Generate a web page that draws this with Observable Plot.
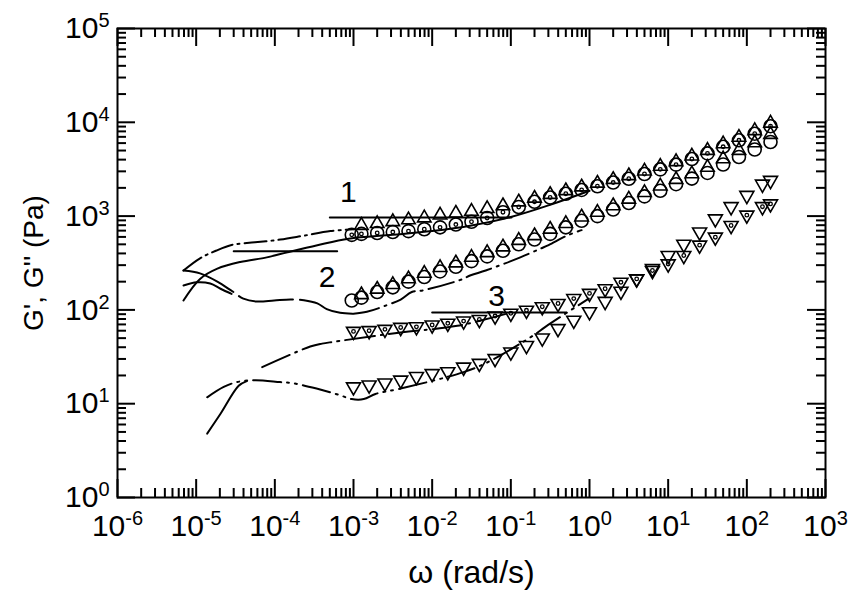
<!DOCTYPE html>
<html><head><meta charset="utf-8">
<script src="https://cdn.jsdelivr.net/npm/d3@7"></script>
<script src="https://cdn.jsdelivr.net/npm/@observablehq/plot@0.6"></script>
<style>
body{margin:0;background:#fff;}
svg{font-family:"Liberation Sans",Arial,sans-serif;}
</style></head><body><div id="chart"></div>
<script>
// ---- frequencies (rad/s) ----
const wOdd = [0.00126,0.002,0.00316,0.005,0.00794,0.0126,0.02,0.0316,0.05,0.0794,0.126,0.2,0.316,0.5,0.794,1.26,2,3.16,5,7.94,12.6,20,31.6,50,79.4,126,200];
const wCirc = [0.00095,0.00126,0.002,0.00316,0.005,0.00794,0.0126,0.02,0.0316,0.05,0.0794,0.126,0.2,0.316,0.5,0.794,1.26,2,3.16,5,7.94,12.6,20,31.6,50,79.4,126,200];
const wEven = [0.001,0.00158,0.00251,0.00398,0.00631,0.01,0.0158,0.0251,0.0398,0.0631,0.1,0.158,0.251,0.398,0.631,1,1.58,2.51,3.98,6.31,10,15.8,25.1,39.8,63.1,100,158,200];
// ---- moduli (Pa) ----
const gTopTri = [794,832,871,912,955,1023,1072,1122,1202,1288,1413,1549,1698,1862,2042,2239,2455,2692,3020,3388,3802,4365,5012,5888,6918,8128,9772];
const gTopCirc = [631,646,661,676,692,724,759,813,871,955,1100,1250,1420,1580,1730,1900,2080,2280,2500,2810,3150,3540,4060,4660,5480,6430,7560,9090];
const gMidCirc = [126,135,155,174,200,224,257,288,331,372,427,501,562,646,759,891,1000,1175,1380,1622,1862,2188,2512,2884,3548,4266,5129,6166];
const gMidTri = [145,166,186,214,245,282,316,363,407,468,550,617,724,832,977,1096,1288,1514,1778,2089,2455,2818,3311,4074,5012,6026,7413];
const gDownUpper = [59,60,62,65,66,69,72,76,79,86,92,99,108,117,132,150,168,197,214,263,309,380,490,596,794,1023,1259,1349];
const gDownLower = [15.1,15.8,16.6,17.8,19.5,20.9,21.9,24.5,26.9,30.2,35.5,41.7,50.1,63.1,77.6,95.5,123,158,214,275,380,501,676,933,1259,1660,2188,2399];
// ---- low-frequency curves ----
const lineA_w = [6.9e-6,1.12e-5,1.78e-5,2.75e-5,5.6e-5,1.17e-4,2.3e-4,5.1e-4,1e-3];
const lineA_g = [263,355,427,490,525,562,617,692,724];
const lineB_w = [6.9e-6,1.12e-5,1.86e-5,3.63e-5,7.9e-5,1.45e-4,3.47e-4,8.7e-4,3.16e-3,0.01,0.0316,0.1,0.316,1.0];
const lineB_g = [126,214,275,324,363,412,490,575,631,692,794,977,1318,1862];
const lineC_w = [6.9e-6,1.12e-5,1.86e-5,2.88e-5,3.98e-5,5.9e-5,9.8e-5,1.58e-4,2.34e-4,3.47e-4,4.57e-4,6.76e-4,1e-3,1.48e-3,2.63e-3,3.98e-3,5.5e-3,7.76e-3,0.0229,0.0309,0.0479,0.132,0.234,0.302,0.513,0.794];
const lineC_g = [263,245,200,158,132,123,126,129,127,117.5,102,93,91,95.5,112,129,155,162,209,234,263,363,447,490,617,708];
const lineD_w = [6.9e-6,1.02e-5,1.51e-5,2.04e-5,2.82e-5];
const lineD_g = [182,197,191,168,148];
const lineE_w = [1.38e-5,2.24e-5,3.31e-5,5.6e-5,1.17e-4,1.66e-4,3.39e-4,6.76e-4,9.5e-4,1.35e-3,1.9e-3,3.98e-3,0.0251,0.05,0.195,0.275,0.977];
const lineE_g = [11.7,15.1,17,17.8,17,16.6,14.5,12.3,11.2,11.2,12.7,14.5,21.7,27.5,53.7,66,132];
const lineF_w = [1.38e-5,2.04e-5,3.47e-5,4.4e-5];
const lineF_g = [4.8,7.8,15.5,17.4];
const lineG_w = [6.9e-5,2.82e-4,3.98e-4,5.6e-4,3.98e-3,0.0209,0.089];
const lineG_g = [24.5,40.7,43.7,45.7,57.5,67.6,91.2];
// ---- horizontal reference lines and labels ----
const ref1_w = [5.0e-4,0.102], ref1_g = [965,965];
const ref2_w = [3.0e-5,6.2e-4], ref2_g = [422,422];
const ref3_w = [0.01,0.51], ref3_g = [94,94];
const labelText = ["1","2","3"];
const labelW = [8.6e-4,4.6e-4,0.066];
const labelG = [1780,224,141];
// ---- ticks ----
const xMajor = [1e-6,1e-5,1e-4,1e-3,1e-2,1e-1,1,10,100,1000];
const yMajor = [1,10,100,1000,10000,100000];
const xMinor = xMajor.slice(0,-1).flatMap(d => [2,3,4,5,6,7,8,9].map(k => k*d));
const yMinor = yMajor.slice(0,-1).flatMap(d => [2,3,4,5,6,7,8,9].map(k => k*d));

const W = 860, H = 590, mL = 117, mR = 35, mT = 28, mB = 93;
const innerW = W - mL - mR, innerH = H - mT - mB;
const rows = (w, g) => w.map((x, i) => ({w: x, g: g[i]}));
const expo = d => Math.round(Math.log10(d));
const lw = 2;

const lineStyle = {x: "w", y: "g", stroke: "black", strokeWidth: lw, curve: "catmull-rom"};
const sym = {x: "w", y: "g", stroke: "black", strokeWidth: 1.6, fill: "none"};
const rowsC = rows(lineC_w, lineC_g);

const chart = Plot.plot({
  width: W, height: H,
  marginLeft: mL, marginRight: mR, marginTop: mT, marginBottom: mB,
  x: {type: "log", domain: [1e-6, 1e3]},
  y: {type: "log", domain: [1, 1e5]},
  style: {background: "white", color: "black"},
  marks: [
    // inward ticks on all four sides
    Plot.ruleX(xMajor, {x: d => d, insetTop: innerH - 18, strokeWidth: 2}),
    Plot.ruleX(xMinor, {x: d => d, insetTop: innerH - 9, strokeWidth: 2}),
    Plot.ruleX(xMajor, {x: d => d, insetBottom: innerH - 18, strokeWidth: 2}),
    Plot.ruleX(xMinor, {x: d => d, insetBottom: innerH - 9, strokeWidth: 2}),
    Plot.ruleY(yMajor, {y: d => d, insetRight: innerW - 18, strokeWidth: 2}),
    Plot.ruleY(yMinor, {y: d => d, insetRight: innerW - 9, strokeWidth: 2}),
    Plot.ruleY(yMajor, {y: d => d, insetLeft: innerW - 18, strokeWidth: 2}),
    Plot.ruleY(yMinor, {y: d => d, insetLeft: innerW - 9, strokeWidth: 2}),
    Plot.frame({stroke: "black", strokeWidth: 2}),
    Plot.axisX(xMajor, {anchor: "bottom", tickSize: 0, tickPadding: 17, fontSize: 30, label: null,
      tickFormat: d => "10^" + expo(d)}),
    Plot.axisY(yMajor, {anchor: "left", tickSize: 0, tickPadding: 8, fontSize: 30, label: null,
      tickFormat: d => "10^" + expo(d)}),
    Plot.text(["ω (rad/s)"], {frameAnchor: "bottom", dy: 75, fontSize: 32, textAnchor: "middle", lineAnchor: "middle"}),
    Plot.text(["G', G'' (Pa)"], {frameAnchor: "left", dx: -83, rotate: -90, fontSize: 28, textAnchor: "middle", lineAnchor: "middle"}),
    // curves
    Plot.line(rows(lineA_w, lineA_g), {...lineStyle, strokeDasharray: "22,5,2,5"}),
    Plot.line(rows(lineB_w, lineB_g), {...lineStyle}),
    Plot.line(rowsC.filter(d => d.w <= 1e-3), {...lineStyle, strokeDasharray: "55,7"}),
    Plot.line(rowsC.filter(d => d.w >= 1e-3), {...lineStyle, strokeDasharray: "26,6,2,6"}),
    Plot.line(rows(lineD_w, lineD_g), {...lineStyle}),
    Plot.line(rows(lineE_w, lineE_g), {...lineStyle, strokeDasharray: "28,6,2,6,2,6"}),
    Plot.line(rows(lineF_w, lineF_g), {...lineStyle}),
    Plot.line(rows(lineG_w, lineG_g), {...lineStyle, strokeDasharray: "30,6,2,6"}),
    Plot.line(rows(ref1_w, ref1_g), {x: "w", y: "g", stroke: "black", strokeWidth: 2}),
    Plot.line(rows(ref2_w, ref2_g), {x: "w", y: "g", stroke: "black", strokeWidth: 2}),
    Plot.line(rows(ref3_w, ref3_g), {x: "w", y: "g", stroke: "black", strokeWidth: 2}),
    Plot.text(labelText.map((t, i) => ({t, w: labelW[i], g: labelG[i]})), {x: "w", y: "g", text: "t", fontSize: 30}),
    // symbols
    Plot.dot(rows(wCirc, gTopCirc), {...sym, symbol: "circle", r: 6.5}),
    Plot.dot(rows(wCirc, gTopCirc), {...sym, symbol: "circle", r: 1.8, strokeWidth: 1.3}),
    Plot.dot(rows(wOdd, gTopTri), {...sym, symbol: "triangle", r: 5}),
    Plot.dot(rows(wCirc, gMidCirc), {...sym, symbol: "circle", r: 6.5}),
    Plot.dot(rows(wOdd, gMidTri), {...sym, symbol: "triangle", r: 5}),
    Plot.dot(rows(wEven, gDownUpper), {...sym, symbol: "triangle", r: 5.2, rotate: 180}),
    Plot.dot(rows(wEven, gDownUpper), {...sym, symbol: "circle", r: 1.8, strokeWidth: 1.3}),
    Plot.dot(rows(wEven, gDownLower), {...sym, symbol: "triangle", r: 5.2, rotate: 180})
  ]
});

// superscript exponents in tick labels (sizes forced via style)
chart.querySelectorAll('g[aria-label="x-axis tick label"] text, g[aria-label="y-axis tick label"] text').forEach(t => {
  const parts = t.textContent.split("^");
  if (parts.length !== 2) return;
  t.textContent = "";
  t.style.fontSize = "30px";
  const ns = "http://www.w3.org/2000/svg";
  const a = document.createElementNS(ns, "tspan");
  a.textContent = parts[0];
  a.style.fontSize = "30px";
  const b = document.createElementNS(ns, "tspan");
  b.textContent = parts[1];
  b.setAttribute("dy", "-11");
  b.style.fontSize = "20px";
  t.appendChild(a); t.appendChild(b);
});

document.getElementById("chart").appendChild(chart);
</script></body></html>
